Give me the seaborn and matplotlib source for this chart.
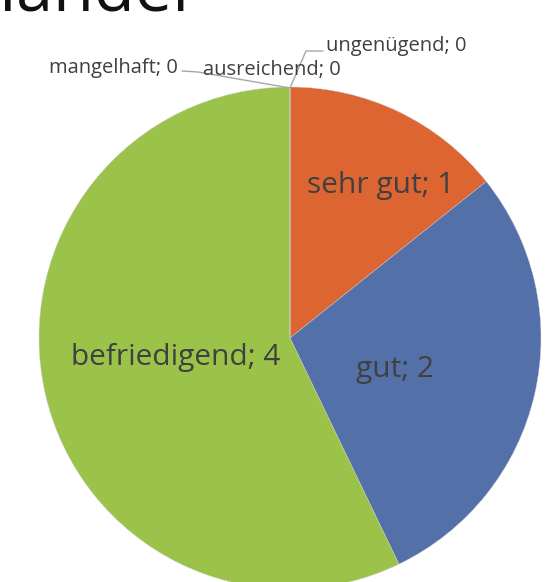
import matplotlib
matplotlib.use("Agg")
import matplotlib.pyplot as plt
import seaborn as sns

categories = ["sehr gut", "gut", "befriedigend", "ausreichend", "mangelhaft", "ungenügend"]
values = [1, 2, 4, 0, 0, 0]
colors = ["#DD6532", "#5470A9", "#9BC34A", "#F2C21C", "#6A9ACF", "#6EAE46"]
title = "Handel"

sns.set_theme(style="white")
plt.rcParams['font.family'] = ['Open Sans', 'DejaVu Sans']

W, H = 555, 582
fig = plt.figure(figsize=(W / 100, H / 100), dpi=100)
cx, cy, R = 290, 338, 251
ax = fig.add_axes([(cx - R) / W, (H - cy - R) / H, 2 * R / W, 2 * R / H])

ax.pie(values, colors=colors, startangle=90, counterclock=False, radius=1,
       wedgeprops=dict(linewidth=0.3, edgecolor="#cccccc"))
ax.set_xlim(-1, 1)
ax.set_ylim(-1, 1)
ax.set_aspect('equal')
ax.axis('off')

def d(px, py):
    return (px - cx) / R, (cy - py) / R

tc = "#404040"
big = 21.5
small = 14.5
lbl = [f"{c}; {v}" for c, v in zip(categories, values)]
ax.text(*d(381, 186), lbl[0], ha='center', va='center', fontsize=big, color=tc)
ax.text(*d(395, 369), lbl[1], ha='center', va='center', fontsize=big, color=tc)
ax.text(*d(176, 357), lbl[2], ha='center', va='center', fontsize=big, color=tc)
ax.text(*d(203, 70), lbl[3], ha='left', va='center', fontsize=small, color=tc, clip_on=False)
ax.text(*d(178, 68), lbl[4], ha='right', va='center', fontsize=small, color=tc, clip_on=False)
ax.text(*d(326, 46), lbl[5], ha='left', va='center', fontsize=small, color=tc, clip_on=False)

lc = "#A6A6A6"
p0 = d(290, 88)
for pts in ([p0, d(306, 51), d(323, 51)], [p0, d(198, 72), d(182, 71)]):
    xs, ys = zip(*pts)
    ax.plot(xs, ys, color=lc, lw=1, clip_on=False)

fig.text(190 / W, (H - 12) / H, title, ha='right', va='baseline', fontsize=48, color="#111111")

fig.savefig("out.png", dpi=100)
